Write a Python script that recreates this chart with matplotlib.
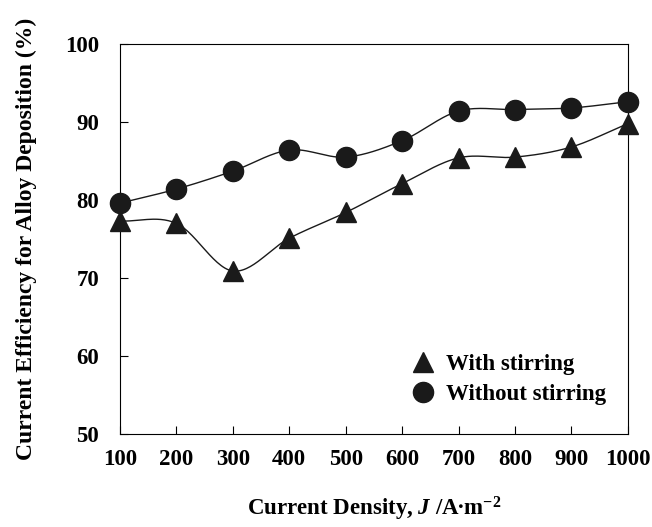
import matplotlib
matplotlib.use("Agg")
import matplotlib.pyplot as plt
import numpy as np

current_density = [100, 200, 300, 400, 500, 600, 700, 800, 900, 1000]
with_stirring = [77.3, 77.0, 70.9, 75.1, 78.4, 82.1, 85.4, 85.5, 86.8, 89.8]
without_stirring = [79.6, 81.4, 83.7, 86.4, 85.5, 87.6, 91.4, 91.6, 91.8, 92.6]


def smooth_curve(x, y, n=30):
    # Catmull-Rom curve through the points (Excel-like smoothed line)
    x = np.asarray(x, float)
    y = np.asarray(y, float)
    px = np.concatenate([[2 * x[0] - x[1]], x, [2 * x[-1] - x[-2]]])
    py = np.concatenate([[2 * y[0] - y[1]], y, [2 * y[-1] - y[-2]]])
    t = np.linspace(0, 1, n)
    xs, ys = [], []
    for i in range(1, len(px) - 2):
        for p, out in ((px, xs), (py, ys)):
            p0, p1, p2, p3 = p[i - 1], p[i], p[i + 1], p[i + 2]
            out.append(0.5 * (2 * p1 + (-p0 + p2) * t
                              + (2 * p0 - 5 * p1 + 4 * p2 - p3) * t ** 2
                              + (-p0 + 3 * p1 - 3 * p2 + p3) * t ** 3))
    return np.concatenate(xs), np.concatenate(ys)


plt.rcParams["font.family"] = ["Liberation Serif", "DejaVu Serif"]
plt.rcParams["font.weight"] = "bold"
plt.rcParams["mathtext.fontset"] = "custom"
plt.rcParams["mathtext.rm"] = "Liberation Serif:bold"
plt.rcParams["mathtext.it"] = "Liberation Serif:bold:italic"
plt.rcParams["mathtext.bf"] = "Liberation Serif:bold"

fig = plt.figure(figsize=(6.52, 5.27), dpi=100)
ax = fig.add_axes([0.184, 0.1765, 0.779, 0.74])

for yvals, marker, label in ((with_stirring, "^", "With stirring"),
                             (without_stirring, "o", "Without stirring")):
    sx, sy = smooth_curve(current_density, yvals)
    ax.plot(sx, sy, color="#1a1a1a", lw=1.0, zorder=2)
    ax.plot(current_density, yvals, linestyle="none", marker=marker, ms=14.5,
            color="#1a1a1a", label=label, zorder=3, clip_on=False)

ax.set_xlim(100, 1000)
ax.set_ylim(50, 100)
ax.set_xticks(current_density)
ax.set_yticks(range(50, 101, 10))
ax.tick_params(direction="in", length=6, width=0.8, labelsize=16.5)
ax.tick_params(axis="x", pad=11)
ax.tick_params(axis="y", pad=15)
for s in ax.spines.values():
    s.set_linewidth(0.8)

ax.set_ylabel("Current Efficiency for Alloy Deposition (%)", fontsize=17,
              fontweight="bold", labelpad=20)
ax.set_xlabel(r"Current Density, $\mathit{J}$ /A$\bullet$m$^{-2}$", fontsize=16.5,
              fontweight="bold", labelpad=18)

ax.legend(loc="upper left", frameon=False, fontsize=16.5, handletextpad=0.5,
          handlelength=1.0, borderpad=0, borderaxespad=0, labelspacing=0.4,
          bbox_to_anchor=(0.575, 0.205))

fig.savefig("out.png", dpi=100)
